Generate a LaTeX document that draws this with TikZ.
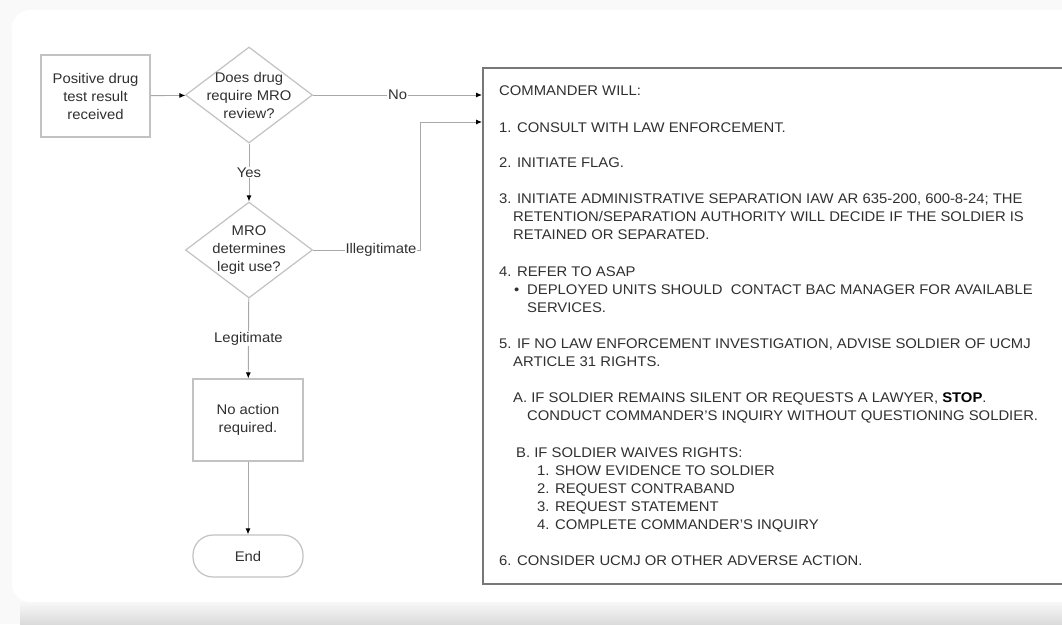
\documentclass[tikz,border=0pt]{standalone}
\usepackage{fontspec}
\setmainfont{Liberation Sans}[FakeStretch=1.06]
\usetikzlibrary{shapes.geometric,arrows.meta}
\definecolor{ink}{HTML}{303030}
\definecolor{edge}{HTML}{C2C2C2}
\definecolor{wire}{HTML}{A8A8A8}
\definecolor{frame}{HTML}{777777}
\begin{document}
\begin{tikzpicture}[x=1pt,y=-1pt,>={Latex[length=6pt,width=5pt,color=black]}]
  \tikzstyle{every node}=[font=\fontsize{14}{18}\selectfont,text=ink]
  \tikzstyle{proc}=[draw=edge,line width=1.2pt,minimum width=109pt,minimum height=82pt,align=center]
  \tikzstyle{decision}=[draw=edge,line width=1.2pt,diamond,minimum width=127pt,minimum height=96pt,inner sep=0pt]
  \tikzstyle{term}=[draw=edge,line width=1.2pt,rounded corners=20pt,minimum width=110pt,minimum height=42pt]
  \tikzstyle{wire}=[draw=wire,line width=0.9pt]
  \tikzstyle{tag}=[fill=white,inner sep=1pt]
  \tikzstyle{line}=[anchor=base west,inner sep=0pt]
  \useasboundingbox (0,0) rectangle (1062,624);
  \clip (0,0) rectangle (1062,624);
  \fill [gray!5] (0,0) rectangle (1062,624);
  \shade [top color=white,bottom color=gray!28] (20,596) rectangle (1062,624);
  \fill [white,rounded corners=18pt] (12,10) rectangle (1100,602);
  \node [proc] (pos) at (95.5,96) {Positive drug\\test result\\received};
  \node [decision] (q1) at (249,95) {};
  \node [align=center] (q1txt) at (q1) {Does drug\\require MRO\\review?};
  \node [decision] (q2) at (249,250) {};
  \node [align=center] (q2txt) at (q2) {MRO\\determines\\legit use?};
  \node [proc,minimum width=110pt] (noact) at (248,420) {No action\\required.};
  \node [term] (fin) at (248,556) {End};
  \node [draw=frame,line width=1.6pt,minimum width=620pt,minimum height=516pt,anchor=north west] (cmd) at (482,67) {};
  \coordinate (elbow) at (420,250);
  \coordinate (in2) at (482,122);
  \draw [wire,->] (pos) -- (q1);
  \draw [wire,->] (q1) -- node [tag] (no) {No} (cmd.west |- q1);
  \draw [wire,->] (q1) -- node [tag] (yes) {Yes} (q2);
  \draw [wire,->] (q2.east) -- node [tag,pos=.635] (illeg) {Illegitimate} (elbow) |- (in2);
  \draw [wire,->] (q2) -- node [tag] (leg) {Legitimate} (noact);
  \draw [wire,->] (noact) -- (fin);
  \node [line] (t0) at (499,95) {COMMANDER WILL:};
  \node [line] (t1) at (499,132) {1. CONSULT WITH LAW ENFORCEMENT.};
  \node [line] (t2) at (499,167) {2. INITIATE FLAG.};
  \node [line] (t3a) at (499,203) {3. INITIATE ADMINISTRATIVE SEPARATION IAW AR 635-200, 600-8-24; THE};
  \node [line] (t3b) at (513,221) {RETENTION/SEPARATION AUTHORITY WILL DECIDE IF THE SOLDIER IS};
  \node [line] (t3c) at (513,239) {RETAINED OR SEPARATED.};
  \node [line] (t4a) at (499,276) {4. REFER TO ASAP};
  \node [line] (t4dot) at (514,294) {•};
  \node [line] (t4b) at (527,294) {DEPLOYED UNITS SHOULD\ \ CONTACT BAC MANAGER FOR AVAILABLE};
  \node [line] (t4c) at (527,312) {SERVICES.};
  \node [line] (t5a) at (499,348) {5. IF NO LAW ENFORCEMENT INVESTIGATION, ADVISE SOLDIER OF UCMJ};
  \node [line] (t5b) at (513,366) {ARTICLE 31 RIGHTS.};
  \node [line] (ta1) at (513,402) {A. IF SOLDIER REMAINS SILENT OR REQUESTS A LAWYER, \textbf{\color{black}STOP}.};
  \node [line] (ta2) at (527,420) {CONDUCT COMMANDER’S INQUIRY WITHOUT QUESTIONING SOLDIER.};
  \node [line] (tb0) at (516,457) {B. IF SOLDIER WAIVES RIGHTS:};
  \node [line] (tb1) at (537,475) {1. SHOW EVIDENCE TO SOLDIER};
  \node [line] (tb2) at (537,493) {2. REQUEST CONTRABAND};
  \node [line] (tb3) at (537,511) {3. REQUEST STATEMENT};
  \node [line] (tb4) at (537,529) {4. COMPLETE COMMANDER’S INQUIRY};
  \node [line] (t6) at (499,565) {6. CONSIDER UCMJ OR OTHER ADVERSE ACTION.};
\end{tikzpicture}
\end{document}
